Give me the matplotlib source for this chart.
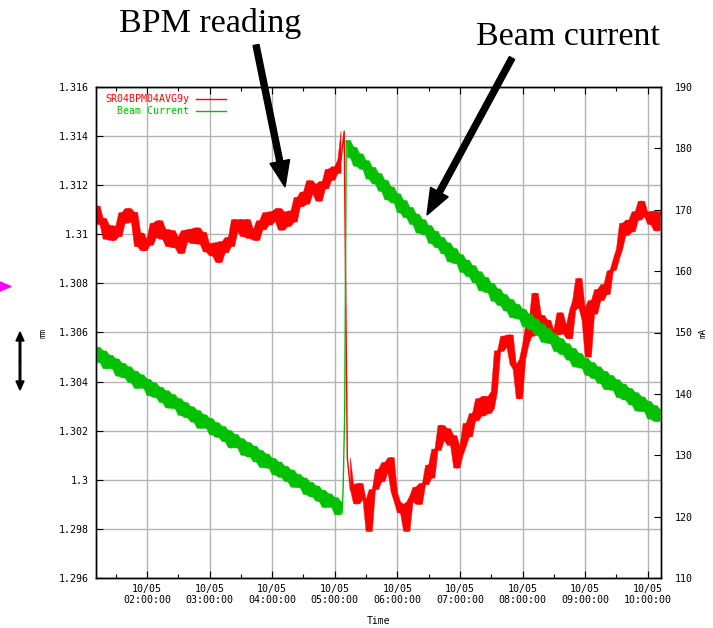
import numpy as np
import matplotlib
matplotlib.use("Agg")
import matplotlib.pyplot as plt
from matplotlib.patches import FancyArrow, Polygon
from matplotlib.transforms import IdentityTransform

plt.rcParams["font.family"] = ["DejaVu Sans Mono"]

# ---- data: minutes after midnight on 10/05 ----
bpm_label = "SR04BPM04AVG9y"
current_label = "Beam Current"

# BPM vertical position (mm), one reading every 3 minutes from 01:12
bpm_values = [
    1.31115, 1.3104, 1.31065, 1.3098, 1.31036, 1.30975, 1.31032, 1.3099, 1.31088, 1.31045,
    1.31105, 1.3105, 1.3109, 1.3095, 1.31005, 1.30933, 1.3098, 1.30955, 1.31045, 1.30987,
    1.31055, 1.3098, 1.3102, 1.3095, 1.31015, 1.30945, 1.30988, 1.30922, 1.31015, 1.3097,
    1.3102, 1.30962, 1.31026, 1.3096, 1.31008, 1.30928, 1.3096, 1.30912, 1.30965, 1.30885,
    1.3097, 1.30925, 1.30987, 1.3095, 1.3106, 1.3101, 1.3106, 1.3099, 1.3106, 1.30983,
    1.3102, 1.30975, 1.31055, 1.31018, 1.31088, 1.31038, 1.31092, 1.31053, 1.31105, 1.31017,
    1.3109, 1.31032, 1.31095, 1.3105, 1.3115, 1.31112, 1.31172, 1.31123, 1.31218, 1.31165,
    1.31203, 1.31135, 1.31215, 1.31185, 1.31265, 1.3122, 1.31275, 1.31248, 1.31305, 1.3142,
    1.3009, 1.2996, 1.2998, 1.29902, 1.29985, 1.2992, 1.2992, 1.2979, 1.2996, 1.2996,
    1.30043, 1.29992, 1.3007, 1.3003, 1.3009, 1.2995, 1.2991, 1.29865, 1.299, 1.2979,
    1.2991, 1.29935, 1.2997, 1.299, 1.29985, 1.2998, 1.3006, 1.30007, 1.30125, 1.3012,
    1.30222, 1.3016, 1.30208, 1.3014, 1.3018, 1.30048, 1.301, 1.30135, 1.3023, 1.30175,
    1.3027, 1.3024, 1.3033, 1.3026, 1.3034, 1.3027, 1.3029, 1.3036, 1.30525, 1.30523,
    1.30585, 1.3054, 1.3059, 1.3047, 1.3045, 1.3033, 1.3049, 1.3055, 1.3063, 1.30585,
    1.3076, 1.3063, 1.3067, 1.306, 1.3065, 1.30575, 1.3061, 1.3059, 1.3068, 1.30595,
    1.3063, 1.30575, 1.3069, 1.3073, 1.3082, 1.307, 1.3065, 1.305, 1.3073, 1.30675,
    1.30775, 1.3073, 1.30795, 1.30755, 1.3085, 1.30855, 1.309, 1.3094, 1.31045, 1.30995,
    1.31058, 1.3101, 1.31092, 1.31058, 1.31135, 1.31072, 1.3109, 1.3104, 1.31094, 1.31014,
    1.3109,
]
bpm_minutes = np.arange(72, 72 + 3 * len(bpm_values), 3)

# Stored beam current (mA): decay before injection, injection, decay after
current_minutes = np.concatenate([
    np.arange(72, 307, 3),
    [307, 308, 309.5, 311],
    np.arange(312, 613, 3),
])
current_values = [
    147.6, 145.1, 147.0, 144.1, 146.3, 144.1, 145.7, 142.9, 145.0, 142.6,
    144.4, 141.8, 143.7, 140.9, 143.1, 140.9, 142.4, 139.7, 141.8, 139.4,
    141.1, 138.6, 140.5, 137.7, 139.9, 137.6, 139.2, 136.5, 138.6, 136.1,
    137.9, 135.4, 137.3, 134.4, 136.6, 134.4, 136.0, 133.3, 135.3, 132.9,
    134.7, 132.2, 134.0, 131.2, 133.4, 131.2, 132.7, 130.0, 132.1, 129.7,
    131.5, 128.9, 130.8, 128.0, 130.2, 127.9, 129.5, 126.8, 128.9, 126.4,
    128.2, 125.7, 127.6, 124.8, 126.9, 124.7, 126.3, 123.6, 125.6, 123.2,
    125.0, 122.5, 124.3, 121.5, 123.7, 121.5, 123.1, 120.3, 122.4,
    120.5, 124.7, 137.0, 181.2,
    181.3, 178.5, 180.2, 177.1, 179.1, 176.6, 178.0, 175.0, 176.9, 174.2,
    175.9, 173.0, 174.8, 171.6, 173.7, 171.1, 172.6, 169.5, 171.5, 168.7,
    170.4, 167.6, 169.3, 166.2, 168.4, 165.9, 167.4, 164.5, 166.5, 163.8,
    165.5, 162.8, 164.6, 161.5, 163.7, 161.2, 162.7, 159.8, 161.8, 159.1,
    160.9, 158.1, 159.9, 156.8, 159.0, 156.5, 158.0, 155.1, 157.1, 154.4,
    156.2, 153.5, 155.4, 152.4, 154.6, 152.2, 153.8, 150.9, 153.0, 150.4,
    152.2, 149.5, 151.4, 148.4, 150.6, 148.2, 149.8, 146.9, 149.0, 146.4,
    148.2, 145.5, 147.4, 144.4, 146.6, 144.2, 145.8, 143.0, 145.1, 142.5,
    144.4, 141.7, 143.7, 140.7, 143.0, 140.6, 142.3, 139.4, 141.6, 139.0,
    140.9, 138.2, 140.2, 137.2, 139.5, 137.1, 138.8, 135.9, 138.1, 135.5,
    137.4,
]

time_ticks = [120, 180, 240, 300, 360, 420, 480, 540, 600]
time_minor = [90, 150, 210, 270, 330, 390, 450, 510, 570]
time_labels = ["10/05\n02:00:00", "10/05\n03:00:00", "10/05\n04:00:00",
               "10/05\n05:00:00", "10/05\n06:00:00", "10/05\n07:00:00",
               "10/05\n08:00:00", "10/05\n09:00:00", "10/05\n10:00:00"]
mm_ticks = [1.296, 1.298, 1.300, 1.302, 1.304, 1.306, 1.308, 1.310, 1.312, 1.314, 1.316]
mm_labels = ["1.296", "1.298", "1.3", "1.302", "1.304", "1.306", "1.308",
             "1.31", "1.312", "1.314", "1.316"]
ma_ticks = [110, 120, 130, 140, 150, 160, 170, 180, 190]

# ---- figure ----
W, H = 713, 628
fig = plt.figure(figsize=(W / 100, H / 100), dpi=100)
ax = fig.add_axes([96 / W, 50 / H, 565 / W, 491 / H])
ax2 = ax.twinx()

red, green = "#ff0000", "#00c000"
tick_fs = 7.2


def noisy_trace(axis, t, v, color, max_step, label):
    """Draw a sampled trace as a solid noise band (local min/max of the
    neighbouring samples) with the sample line on top."""
    t = np.asarray(t, dtype=float)
    v = np.asarray(v, dtype=float)
    prv = np.insert(v[:-1], 0, v[0])
    nxt = np.append(v[1:], v[-1])
    lo = np.minimum(np.minimum(prv, v), nxt)
    hi = np.maximum(np.maximum(prv, v), nxt)
    axis.fill_between(t, lo, hi, where=(hi - lo) < max_step, color=color,
                      lw=0.3, edgecolor=color, interpolate=False)
    line, = axis.plot(t, v, color=color, lw=1.0, label=label)
    return line


line_bpm = noisy_trace(ax, bpm_minutes, bpm_values, red, 0.003, bpm_label)
line_cur = noisy_trace(ax2, current_minutes, current_values, green, 3.6, current_label)

ax.set_xlim(71.1, 612.7)
ax.set_ylim(1.296, 1.316)
ax2.set_ylim(110, 190)

ax.set_xticks(time_ticks)
ax.set_xticklabels(time_labels)
ax.set_xticks(time_minor, minor=True)
ax.set_yticks(mm_ticks)
ax.set_yticklabels(mm_labels)
ax2.set_yticks(ma_ticks)

ax.grid(True, which="major", color="#b4b4b4", lw=1.0)
ax.set_axisbelow(True)

ax.tick_params(axis="both", which="major", direction="in", length=5, width=0.8,
               labelsize=tick_fs, top=True)
ax.tick_params(axis="x", which="minor", direction="in", length=3, width=0.8, top=True)
ax.tick_params(axis="x", pad=4)
ax.tick_params(axis="y", pad=5)
ax2.tick_params(axis="y", direction="in", length=5, width=0.8, pad=10,
                labelsize=tick_fs)

for a in (ax, ax2):
    for s in a.spines.values():
        s.set_color("black")
        s.set_linewidth(1.0)

ax2.legend(handles=[line_bpm, line_cur], loc="upper right",
           bbox_to_anchor=(226 / W, 1 - 94 / H), bbox_transform=fig.transFigure,
           markerfirst=False, frameon=False, labelcolor="linecolor",
           prop={"family": "DejaVu Sans Mono", "size": tick_fs},
           handlelength=3.0, handletextpad=0.7, labelspacing=0.25,
           borderpad=0, borderaxespad=0)

fig.text(43 / W, 1 - 333 / H, "mm", rotation=90, ha="center", va="center", size=6)
fig.text(703 / W, 1 - 333 / H, "mA", rotation=90, ha="center", va="center", size=6)
fig.text(378 / W, 1 - 621 / H, "Time", ha="center", va="center", size=7)

# ---- callouts ----
serif = "Liberation Serif"
fig.text(210.5 / W, 1 - 32 / H, "BPM reading", ha="center", va="baseline",
         family=serif, size=24.5)
fig.text(567.5 / W, 1 - 45 / H, "Beam current", ha="center", va="baseline",
         family=serif, size=24.5)

ident = IdentityTransform()


def big_arrow(x0, y0, x1, y1):
    fig.patches.append(FancyArrow(x0, H - y0, x1 - x0, -(y1 - y0), width=6,
                                  head_width=20, head_length=26,
                                  length_includes_head=True, color="black",
                                  transform=ident, figure=fig))


big_arrow(256, 45, 285, 187)
big_arrow(512, 58, 427, 215)

# vertical double-headed marker and pointer at the left edge
fig.patches.append(FancyArrow(20, H - 362, 0, 30, width=1.6, head_width=8, head_length=9,
                              length_includes_head=True, color="black",
                              transform=ident, figure=fig))
fig.patches.append(FancyArrow(20, H - 362, 0, -28, width=1.6, head_width=8, head_length=9,
                              length_includes_head=True, color="black",
                              transform=ident, figure=fig))
fig.patches.append(Polygon([[0, H - 282], [11, H - 286.5], [0, H - 291]], closed=True,
                           color="#ff00ff", transform=ident, figure=fig))

fig.savefig("out.png", dpi=100)
